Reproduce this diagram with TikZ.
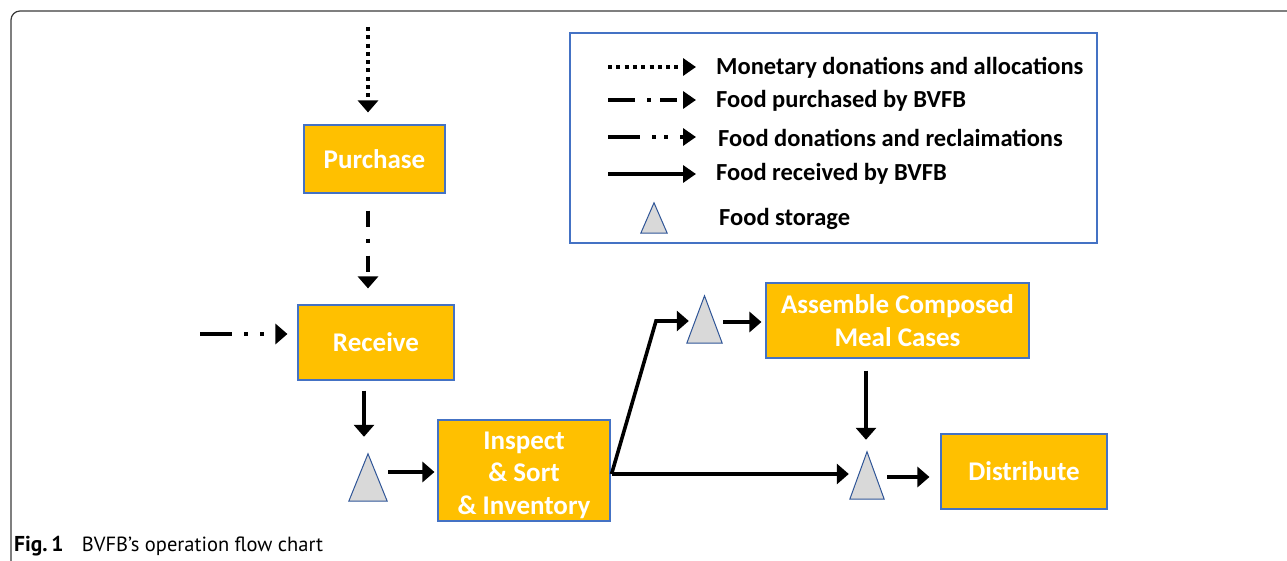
\documentclass[tikz,border=0pt]{standalone}
\usepackage{fontspec}
\setmainfont{Carlito}
\newfontfamily\capfont{PT Sans}
\usetikzlibrary{arrows.meta,calc}

\definecolor{boxfill}{HTML}{FFC000}
\definecolor{boxline}{HTML}{4472C4}
\definecolor{trifill}{HTML}{D9D9D9}
\definecolor{triline}{HTML}{2F5597}
\definecolor{framecol}{HTML}{3A3A3A}

\tikzset{
  stepbox/.style={draw=boxline, line width=1.1pt, fill=boxfill, text=white,
    font=\fontsize{27}{32.5}\selectfont\bfseries, align=center, inner sep=0pt},
  storeslot/.style={inner sep=0pt, minimum width=#1},
  tip/.style={-{Triangle[width=20pt,length=12pt]}},
  flow/.style={tip, line width=3.6pt},
  money/.style={tip, line width=4pt, dash pattern=on 4pt off 4.3pt},
  bought/.style={tip, line width=4pt, dash pattern=on 16pt off 12pt on 4pt off 13pt},
  gift/.style={tip, line width=4pt, dash pattern=on 32pt off 12pt on 4pt off 12pt on 4pt off 12pt},
  legtip/.style={-{Triangle[width=17pt,length=13pt]}},
  legtext/.style={anchor=west, inner sep=0pt, font=\fontsize{24.5}{28}\selectfont\bfseries}
}

% draws a storage triangle inside a named slot node
\newcommand{\storetri}[1]{%
  \draw[fill=trifill, draw=triline, line width=1pt]
    (#1.south west) -- (#1.north) -- (#1.south east) -- cycle;}

\begin{document}
\begin{tikzpicture}[x=1pt, y=-1pt]
\useasboundingbox (0,0) rectangle (1287,561);

% outer figure frame
\draw[framecol, line width=1.2pt, rounded corners=9pt] (11,561) -- (11,11) -- (1287,11);

% process boxes
\node[stepbox, minimum width=141pt, minimum height=68pt] (purchase) at (374.5,159) {Purchase};
\node[stepbox, minimum width=156pt, minimum height=75pt] (receive) at (376,342.5) {Receive};
\node[stepbox, minimum width=172pt, minimum height=101pt] (inspect) at (524,470.5) {\rule{0pt}{27pt}Inspect\\\& Sort\\\& Inventory};
\node[stepbox, minimum width=263pt, minimum height=75pt] (assemble) at (897.5,320.5) {Assemble Composed\\Meal Cases};
\node[stepbox, minimum width=166pt, minimum height=75pt] (distribute) at (1024,471.5) {Distribute};

% storage triangles
\node[storeslot=38pt, minimum height=47pt] (tri1) at (368,477.5) {};
\node[storeslot=35pt, minimum height=47pt] (tri2) at (704.5,319.5) {};
\node[storeslot=34pt, minimum height=47pt] (tri3) at (867,475.5) {};
\storetri{tri1}
\storetri{tri2}
\storetri{tri3}

% incoming flows
\coordinate (moneyin) at (368,27);
\coordinate (giftin) at (200,334);
\coordinate (bend) at (656,321);

\draw[money] (moneyin) -- ($(moneyin |- purchase.north)+(0,-12)$);
\draw[bought] ($(moneyin |- purchase.south)+(0,17)$) -- ($(moneyin |- receive.north)+(0,-16)$);
\draw[gift] (giftin) -- ($(giftin -| receive.west)+(-10,0)$);

% food flows
\draw[flow] ($(receive.south)+(-12,10)$) -- ($(tri1.north)+(-4,-17)$);
\draw[flow] ($(tri1.east |- inspect.west)+(1,1.5)$) -- ($(inspect.west)+(-3,1.5)$);
\draw[flow, line join=miter] ($(inspect.east)+(1,3.5)$) -- (bend) -- ($(tri2.west)+(2,1.5)$);
\draw[flow] ($(inspect.east)+(1,3.5)$) -- ($(tri3.west)+(-1,-1.5)$);
\draw[flow] ($(tri2.east)+(1,2.5)$) -- ($(assemble.west)+(-4,1.5)$);
\draw[flow] ($(tri3.north |- assemble.south)+(-1,12)$) -- ($(tri3.north)+(-1,-12)$);
\draw[flow] ($(tri3.east)+(3,1.5)$) -- ($(distribute.west)+(-11,5.5)$);

% legend
\node[draw=boxline, line width=1.1pt, minimum width=527pt, minimum height=210pt, inner sep=0pt] (legend) at (833.5,138) {};
\coordinate (l1) at (608,67);
\coordinate (l2) at (608,100);
\coordinate (l3) at (608,137);
\coordinate (l4) at (608,174);
\draw[money, legtip] (l1) -- ++(88,0);
\draw[line width=4pt, legtip, dash pattern=on 27pt off 12pt on 4pt off 9pt on 17pt off 20pt] (l2) -- ++(88,0);
\draw[line width=4pt, legtip, dash pattern=on 32pt off 12pt on 4pt off 8pt on 4pt off 12pt] (l3) -- ++(88,0);
\draw[line width=3.6pt, legtip] (l4) -- ++(88,0);
\node[storeslot=26pt, minimum height=30pt] (legtri) at (654,218) {};
\storetri{legtri}
\node[legtext] (t1) at (716,68) {Monetary donations and allocations};
\node[legtext] (t2) at (716,101) {Food purchased by BVFB};
\node[legtext] (t3) at (718,138) {Food donations and reclaimations};
\node[legtext] (t4) at (716,174) {Food received by BVFB};
\node[legtext] (t5) at (719,219) {Food storage};

% caption
\node[anchor=base west, inner sep=0pt, font=\capfont\fontsize{20.5}{24}\selectfont] (caption) at (14,551)
  {{\fontsize{21.5}{24}\selectfont\textbf{Fig.\,1}}\hspace{0.9em}BVFB’s operation flow chart};
\end{tikzpicture}
\end{document}
